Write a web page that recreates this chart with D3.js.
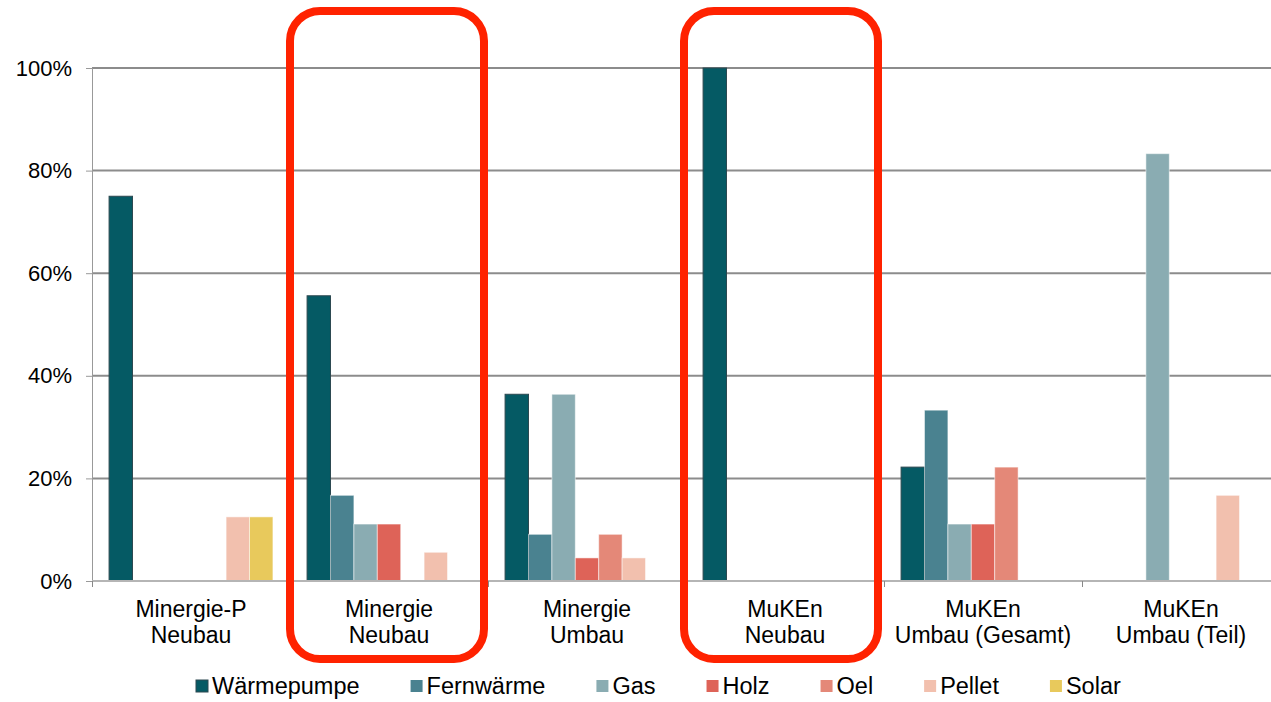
<!DOCTYPE html>
<html>
<head>
<meta charset="utf-8">
<script src="https://cdn.jsdelivr.net/npm/d3@7"></script>
<style>
  html, body { margin: 0; padding: 0; background: #fff; }
  svg { display: block; font-family: "Liberation Sans", Arial, sans-serif; }
</style>
</head>
<body>
<svg id="chart" width="1271" height="702"></svg>
<script>
// categories (two-line labels)
const categories = [
  ["Minergie-P", "Neubau"],
  ["Minergie", "Neubau"],
  ["Minergie", "Umbau"],
  ["MuKEn", "Neubau"],
  ["MuKEn", "Umbau (Gesamt)"],
  ["MuKEn", "Umbau (Teil)"]
];
const seriesNames = ["Wärmepumpe", "Fernwärme", "Gas", "Holz", "Oel", "Pellet", "Solar"];
const seriesColors = ["#055a64", "#4a8290", "#8aacb2", "#de6358", "#e48878", "#f2c0ae", "#e8c95c"];

// share per category (%), one array per series
const waermepumpe = [75, 55.6, 36.4, 100, 22.2, 0];
const fernwaerme  = [0, 16.7, 9.1, 0, 33.3, 0];
const gas         = [0, 11.1, 36.4, 0, 11.1, 83.3];
const holz        = [0, 11.1, 4.5, 0, 11.1, 0];
const oel         = [0, 0, 9.1, 0, 22.2, 0];
const pellet      = [12.5, 5.6, 4.5, 0, 0, 16.7];
const solar       = [12.5, 0, 0, 0, 0, 0];
const seriesValues = [waermepumpe, fernwaerme, gas, holz, oel, pellet, solar];

const yTicks = [0, 20, 40, 60, 80, 100];
// categories that get the red highlight frame
const highlighted = [1, 3];

const svg = d3.select("#chart");
const margin = { left: 92, top: 68, bottom: 121 };
const plotW = 1188;
const plotH = 702 - margin.top - margin.bottom;

const x0 = d3.scaleBand()
  .domain(d3.range(categories.length))
  .range([margin.left, margin.left + plotW]);

const x1 = d3.scaleBand()
  .domain(seriesNames)
  .range([0, x0.bandwidth()])
  .paddingOuter(0.73);

const y = d3.scaleLinear()
  .domain([0, 100])
  .range([margin.top + plotH, margin.top]);

// gridlines
svg.append("g")
  .selectAll("line")
  .data(yTicks.filter((d) => d > 0))
  .join("line")
  .attr("x1", margin.left)
  .attr("x2", 1271)
  .attr("y1", (d) => y(d))
  .attr("y2", (d) => y(d))
  .attr("stroke", "#8c8c8c")
  .attr("stroke-width", 2);

// y axis
const yAxis = svg.append("g")
  .attr("transform", `translate(${margin.left},0)`)
  .call(d3.axisLeft(y).tickValues(yTicks).tickSize(6).tickPadding(14).tickFormat((d) => d + "%"));
yAxis.select(".domain").attr("stroke", "#999").attr("d", `M0.5,${y(100)}V${y(0) + 5}`);
yAxis.selectAll("line").attr("stroke", "#999");
yAxis.selectAll("text").attr("font-size", 22).attr("fill", "#000")
  .attr("font-family", "Liberation Sans, Arial, sans-serif");

// bars
const groups = svg.append("g")
  .selectAll("g")
  .data(categories.map((c, i) => i))
  .join("g")
  .attr("transform", (i) => `translate(${x0(i)},0)`);

groups.selectAll("rect")
  .data((i) => seriesNames.map((s, k) => ({ s, k, v: seriesValues[k][i] })).filter((d) => d.v > 0))
  .join("rect")
  .attr("x", (d) => x1(d.s))
  .attr("width", x1.bandwidth())
  .attr("y", (d) => y(d.v))
  .attr("height", (d) => y(0) - y(d.v))
  .attr("fill", (d) => seriesColors[d.k])
  .attr("stroke", (d) => d.k === 0 ? "#2c4850" : "rgba(255,255,255,0.5)")
  .attr("stroke-width", 1);

// baseline + category ticks
svg.append("line")
  .attr("x1", margin.left).attr("x2", 1271)
  .attr("y1", y(0)).attr("y2", y(0))
  .attr("stroke", "#b5b5b5").attr("stroke-width", 2);

svg.append("g")
  .selectAll("line")
  .data(d3.range(categories.length + 1))
  .join("line")
  .attr("x1", (i) => margin.left + i * x0.bandwidth() + 0.5)
  .attr("x2", (i) => margin.left + i * x0.bandwidth() + 0.5)
  .attr("y1", y(0))
  .attr("y2", y(0) + 6)
  .attr("stroke", "#888");

// category labels
const catText = svg.append("g")
  .selectAll("text")
  .data(categories)
  .join("text")
  .attr("x", (d, i) => x0(i) + x0.bandwidth() / 2)
  .attr("y", 617)
  .attr("text-anchor", "middle")
  .attr("font-size", 23)
  .attr("fill", "#000");
catText.selectAll("tspan")
  .data((d) => d)
  .join("tspan")
  .attr("x", function () { return d3.select(this.parentNode).attr("x"); })
  .attr("dy", (d, j) => j === 0 ? 0 : 26)
  .text((d) => d);

// red highlight frames
svg.append("g")
  .selectAll("rect")
  .data(highlighted)
  .join("rect")
  .attr("x", (i) => x0(i) - (i === 3 ? 2 : 0))
  .attr("y", 11)
  .attr("width", x0.bandwidth() - 4)
  .attr("height", 648)
  .attr("rx", 30)
  .attr("fill", "none")
  .attr("stroke", "#ff2200")
  .attr("stroke-width", 8);

// legend
const legend = svg.append("g").attr("transform", "translate(196,0)");
let lx = 0;
seriesNames.forEach((name, k) => {
  const item = legend.append("g").attr("transform", `translate(${lx},0)`);
  item.append("rect")
    .attr("x", 0).attr("y", 680)
    .attr("width", 12).attr("height", 12)
    .attr("fill", seriesColors[k])
    .attr("stroke", k === 0 ? "#2c4850" : "none");
  const t = item.append("text")
    .attr("x", 16).attr("y", 694)
    .attr("font-size", 23.5)
    .attr("fill", "#000")
    .text(name);
  lx += 16 + t.node().getComputedTextLength() + 51;
});
</script>
</body>
</html>
